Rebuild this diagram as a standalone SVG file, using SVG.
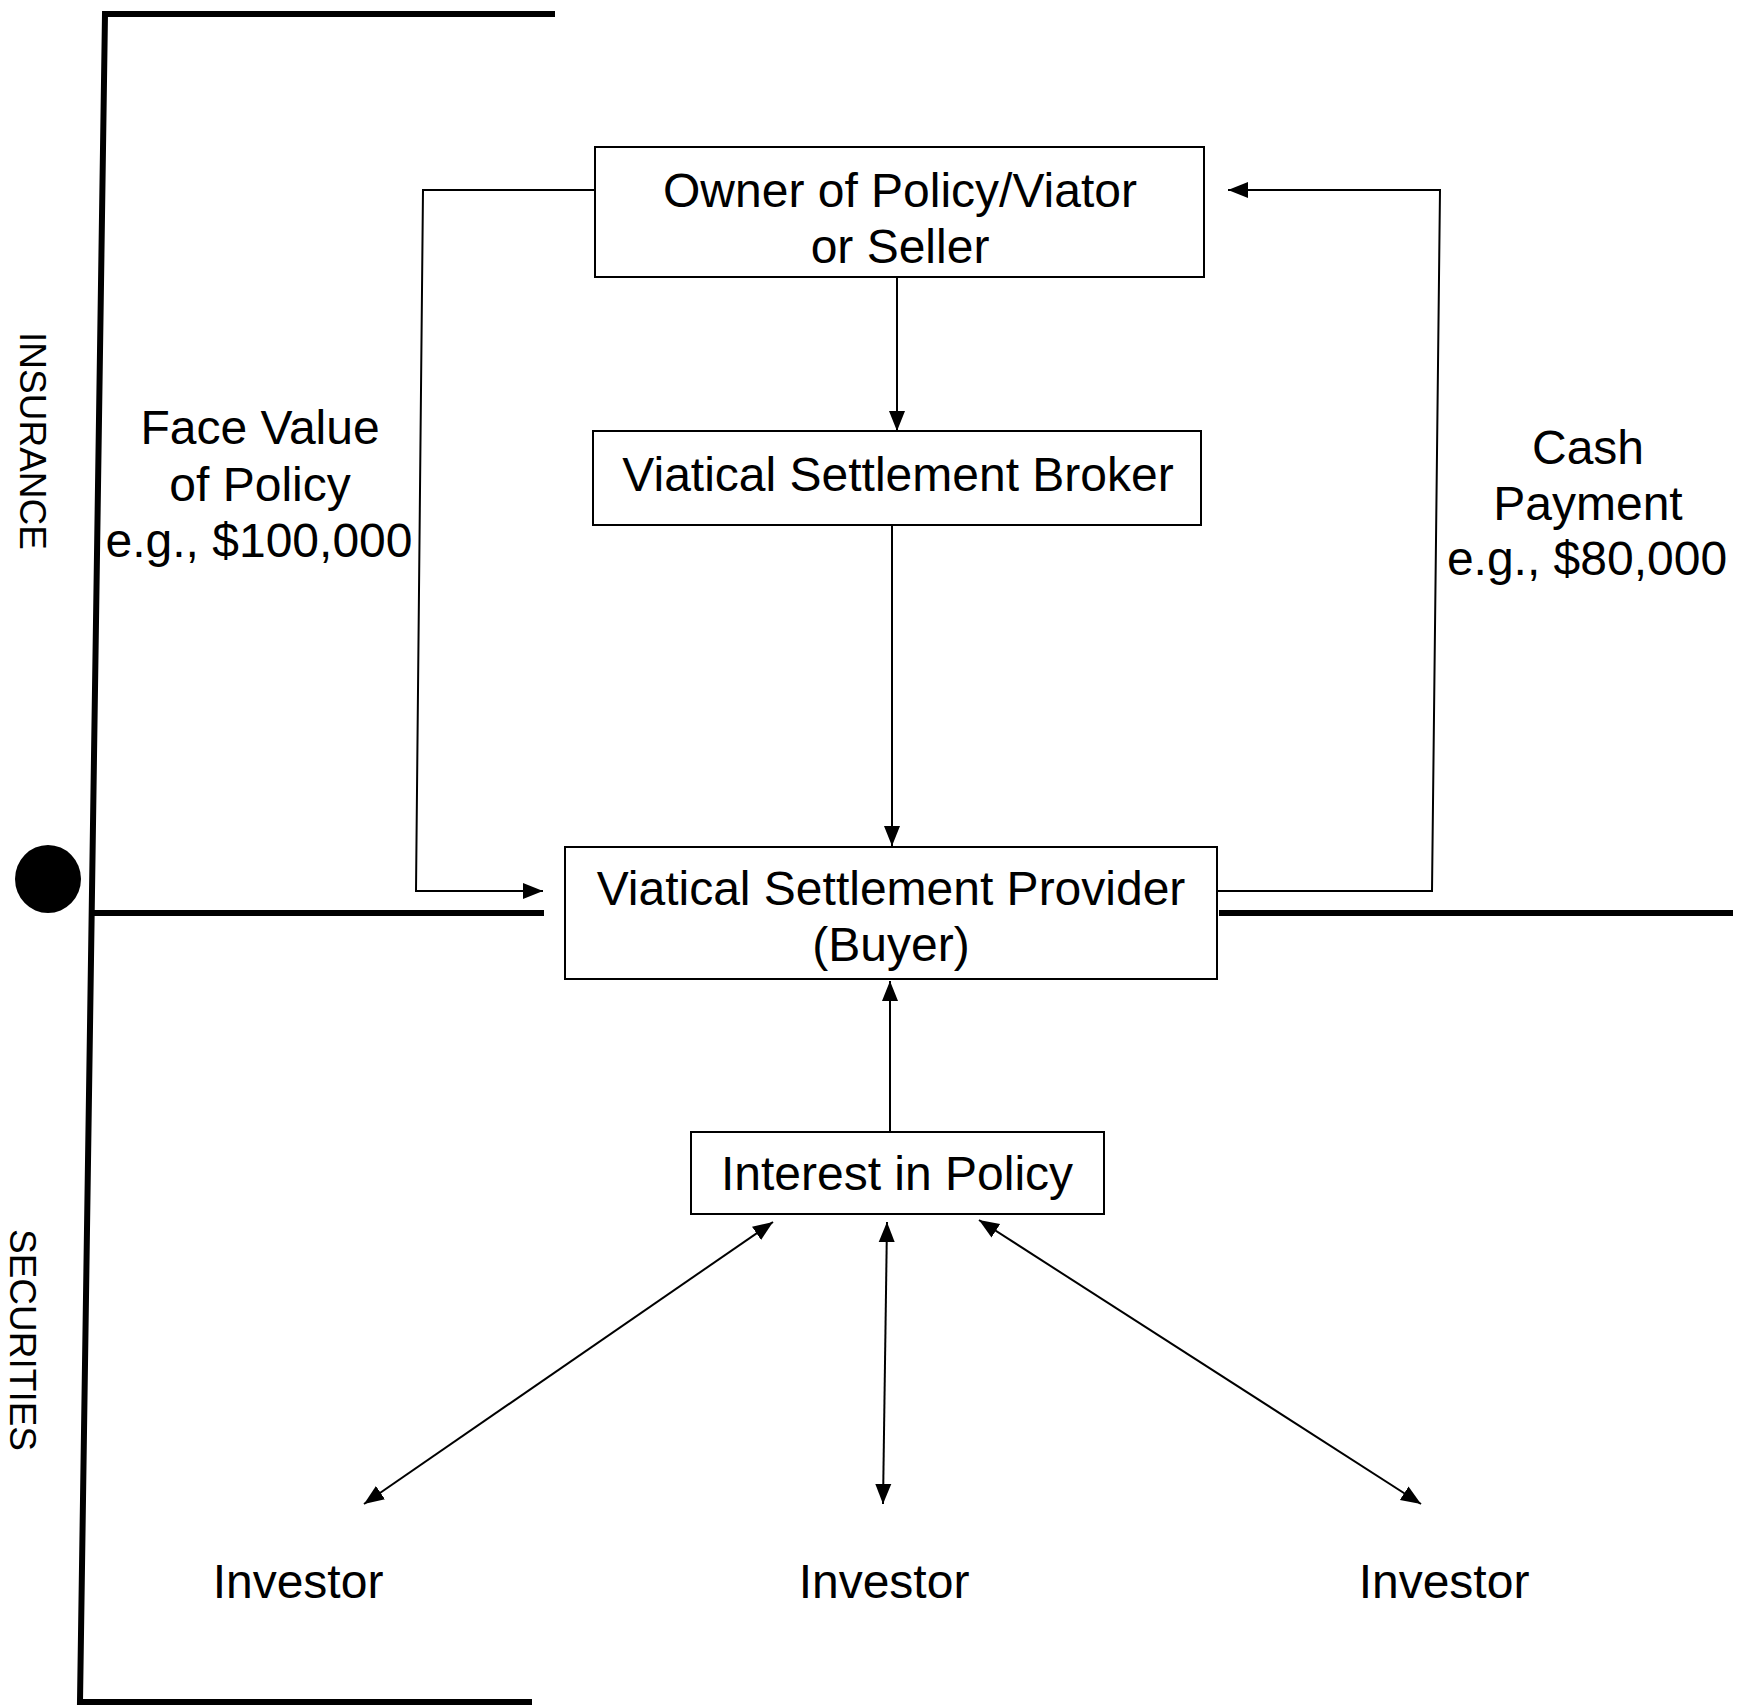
<svg xmlns="http://www.w3.org/2000/svg" width="1750" height="1706" viewBox="0 0 1750 1706">
<style>
text{font-family:"Liberation Sans",Arial,sans-serif;fill:#000;}
.lbl{font-size:48px;text-anchor:middle;}
.side{font-size:37px;text-anchor:middle;}
.box{fill:#fff;stroke:#000;stroke-width:2;}
.thin{fill:none;stroke:#000;stroke-width:2;}
.thick{fill:none;stroke:#000;stroke-width:6;}
</style>
<defs>
<marker id="ah" markerUnits="userSpaceOnUse" markerWidth="22" markerHeight="18" refX="20" refY="8" orient="auto-start-reverse" viewBox="0 0 22 16">
<path d="M0,0 L20,8 L0,16 z" fill="#000"/>
</marker>
</defs>
<rect width="1750" height="1706" fill="#fff"/>
<g id="frame">
<path class="thick" d="M555,14 L105,14 L80,1702 L532,1702"/>
<path class="thick" d="M93,913 L544,913"/>
<path class="thick" d="M1219,913 L1733,913"/>
<ellipse cx="48" cy="879" rx="33" ry="34" fill="#000"/>
<text class="side" transform="translate(20,441) rotate(90)">INSURANCE</text>
<text class="side" transform="translate(10,1340) rotate(90)">SECURITIES</text>
</g>
<g id="connectors">
<path class="thin" d="M897,277 L897,431" marker-end="url(#ah)"/>
<path class="thin" d="M892,525 L892,846" marker-end="url(#ah)"/>
<path class="thin" d="M595,190 L423,190 L416,891 L543,891" marker-end="url(#ah)"/>
<path class="thin" d="M1217,891 L1432,891 L1440,190 L1228,190" marker-end="url(#ah)"/>
<path class="thin" d="M890,1132 L890,981" marker-end="url(#ah)"/>
<path class="thin" d="M773,1222 L364,1504" marker-start="url(#ah)" marker-end="url(#ah)"/>
<path class="thin" d="M887,1222 L883,1504" marker-start="url(#ah)" marker-end="url(#ah)"/>
<path class="thin" d="M979,1220 L1421,1504" marker-start="url(#ah)" marker-end="url(#ah)"/>
</g>
<g id="owner">
<rect class="box" x="595" y="147" width="609" height="130"/>
<text class="lbl" x="900" y="207">Owner of Policy/Viator</text>
<text class="lbl" x="900" y="263">or Seller</text>
</g>
<g id="broker">
<rect class="box" x="593" y="431" width="608" height="94"/>
<text class="lbl" x="898" y="491">Viatical Settlement Broker</text>
</g>
<g id="provider">
<rect class="box" x="565" y="847" width="652" height="132"/>
<text class="lbl" x="891" y="905">Viatical Settlement Provider</text>
<text class="lbl" x="891" y="961">(Buyer)</text>
</g>
<g id="interest">
<rect class="box" x="691" y="1132" width="413" height="82"/>
<text class="lbl" x="897" y="1190">Interest in Policy</text>
</g>
<g id="face-value">
<text class="lbl" x="260" y="444">Face Value</text>
<text class="lbl" x="260" y="501">of Policy</text>
<text class="lbl" x="259" y="557">e.g., $100,000</text>
</g>
<g id="cash-payment">
<text class="lbl" x="1588" y="464">Cash</text>
<text class="lbl" x="1588" y="520">Payment</text>
<text class="lbl" x="1587" y="575">e.g., $80,000</text>
</g>
<g id="investor-1"><text class="lbl" x="298" y="1598">Investor</text></g>
<g id="investor-2"><text class="lbl" x="884" y="1598">Investor</text></g>
<g id="investor-3"><text class="lbl" x="1444" y="1598">Investor</text></g>
</svg>
